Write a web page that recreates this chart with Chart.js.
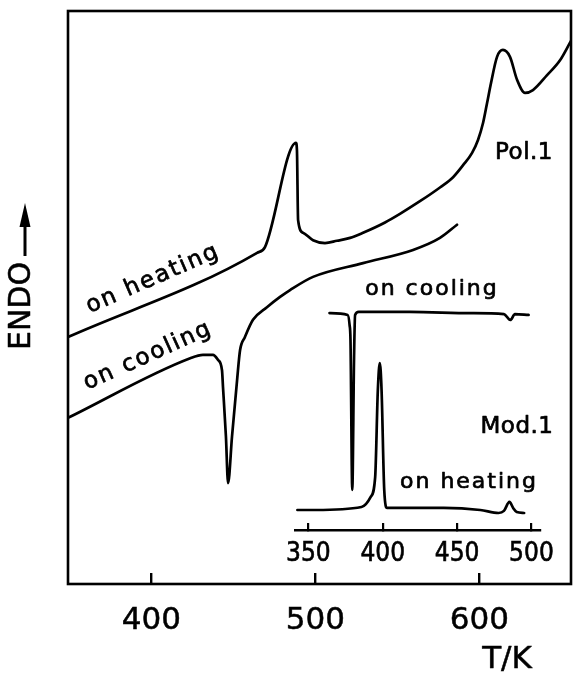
<!DOCTYPE html>
<html><head><meta charset="utf-8">
<script src="https://cdn.jsdelivr.net/npm/chart.js@4.4.1/dist/chart.umd.min.js"></script>
<style>
html,body{margin:0;padding:0;background:#fff;}
#wrap{position:relative;width:573px;height:678px;overflow:hidden;}
#main{position:absolute;left:0;top:0;}
#inset{position:absolute;left:270px;top:260px;}
</style></head><body>
<div id="wrap"><canvas id="main" width="573" height="678"></canvas><canvas id="inset" width="300" height="320"></canvas></div>
<script>
// ---- data ----
const mainTicks = [400, 500, 600];
const insetTicks = [350, 400, 450, 500];

// Pol.1 on heating (T / K, ENDO arbitrary units)
const pol1HeatT = [349.2, 464.5, 469.3, 488.2, 488.8, 489.5, 492.5, 498.6, 505.9, 513.2, 521.2, 529.1, 542.5, 551.6, 563.8, 576.0, 584.0, 590.1, 595.5, 599.2, 602.3, 604.7, 607.1, 610.8, 614.4, 618.7, 623.0, 627.9, 632.7, 641.3, 649.2, 655.9];
const pol1HeatY = [43.1, 57.8, 58.8, 77.0, 75.7, 63.5, 61.3, 60.0, 59.5, 59.9, 60.4, 61.3, 63.1, 64.6, 66.8, 69.2, 71.0, 73.1, 75.2, 77.5, 80.5, 83.9, 87.4, 92.0, 93.2, 92.0, 88.0, 85.7, 86.2, 88.8, 91.4, 94.8];

// Pol.1 on cooling
const pol1CoolT = [349.2, 423.7, 431.5, 437.6, 440.7, 443.1, 443.7, 445.5, 446.8, 449.2, 452.3, 454.1, 457.1, 462.0, 470.5, 478.5, 484.6, 498.6, 529.1, 559.6, 576.0, 586.4];
const pol1CoolY = [29.0, 39.4, 40.0, 40.0, 39.1, 37.3, 34.4, 25.7, 17.6, 25.7, 35.6, 40.8, 43.1, 46.1, 48.3, 50.1, 51.3, 53.6, 56.0, 58.3, 60.4, 62.7];

// Mod.1 on cooling (inset)
const mod1CoolT = [364.2, 376.4, 377.7, 378.3, 379.5, 380.7, 381.4, 383.8, 418.2, 459.4, 481.5, 485.8, 488.9, 498.1];
const mod1CoolY = [94.3, 93.5, 89.1, 82.6, 17.4, 75.2, 93.5, 94.8, 94.8, 94.3, 93.9, 91.3, 93.9, 93.5];

// Mod.1 on heating (inset)
const mod1HeatT = [342.6, 354.9, 385.7, 391.8, 394.9, 396.7, 398.0, 399.2, 401.0, 402.9, 441.0, 465.6, 477.9, 481.5, 485.2, 487.7, 490.1, 495.1];
const mod1HeatY = [8.7, 8.7, 10.0, 14.3, 23.0, 60.9, 72.6, 60.9, 17.4, 9.6, 9.6, 8.7, 7.4, 8.3, 12.2, 9.6, 7.8, 7.4];

// ---- helpers ----
const FONT = "'DejaVu Sans', sans-serif";
const NARROW = "'Liberation Sans Narrow', 'DejaVu Sans Condensed', sans-serif";
Chart.defaults.font.family = FONT;
Chart.defaults.color = '#000';
const pts = (xs, ys) => xs.map((x, i) => ({x: x, y: ys[i]}));
const lineDs = (xs, ys) => ({
  data: pts(xs, ys), borderColor: '#000', borderWidth: 2.7, pointRadius: 0,
  fill: false, cubicInterpolationMode: 'monotone', borderJoinStyle: 'round', borderCapStyle: 'round'
});

function txt(ctx, s, x, y, size, rot, spacing, weight) {
  ctx.save();
  ctx.translate(x, y);
  if (rot) ctx.rotate(rot * Math.PI / 180);
  ctx.font = size + 'px ' + FONT;
  ctx.fillStyle = '#000';
  ctx.strokeStyle = '#000';
  ctx.lineWidth = weight || 0.7;
  ctx.lineJoin = 'round';
  ctx.textAlign = 'center';
  ctx.textBaseline = 'middle';
  try { ctx.letterSpacing = (spacing || 0) + 'px'; } catch (e) {}
  ctx.fillText(s, 0, 0);
  ctx.strokeText(s, 0, 0);
  ctx.restore();
}

const mainDeco = {
  id: 'mainDeco',
  afterDraw(chart) {
    const ctx = chart.ctx, a = chart.chartArea;
    ctx.save();
    ctx.strokeStyle = '#000';
    ctx.lineWidth = 2.6;
    ctx.strokeRect(a.left, a.top, a.right - a.left, a.bottom - a.top);
    ctx.restore();
    txt(ctx, 'on heating', 153, 279, 23, -23.5, 2);
    txt(ctx, 'on cooling', 148, 356, 23, -24.2, 2);
    txt(ctx, 'Pol.1', 524, 153, 23, 0, 0.5);
    txt(ctx, 'ENDO', 22, 306, 30, -90, 0, 0.5);
    txt(ctx, 'T/K', 507, 660, 31, 0, 0, 0.5);
    // ENDO arrow
    ctx.save();
    ctx.strokeStyle = '#000'; ctx.fillStyle = '#000'; ctx.lineWidth = 3;
    ctx.beginPath(); ctx.moveTo(25, 256); ctx.lineTo(25, 222); ctx.stroke();
    ctx.beginPath(); ctx.moveTo(25, 203); ctx.lineTo(19.5, 227); ctx.lineTo(30.5, 227); ctx.closePath(); ctx.fill();
    ctx.restore();
  }
};

new Chart(document.getElementById('main'), {
  type: 'line',
  data: { datasets: [lineDs(pol1HeatT, pol1HeatY), lineDs(pol1CoolT, pol1CoolY)] },
  options: {
    responsive: false, animation: false, devicePixelRatio: 1,
    layout: { padding: { left: 68, top: 11, right: 2, bottom: 0 } },
    plugins: { legend: { display: false }, tooltip: { enabled: false } },
    scales: {
      x: {
        type: 'linear', position: 'bottom', min: 349.2, max: 655.9,
        afterBuildTicks: s => { s.ticks = mainTicks.map(v => ({value: v})); },
        afterFit: s => { s.height = 94; },
        grid: { drawOnChartArea: false, drawTicks: true, tickLength: -11, color: '#000', lineWidth: 2.4 },
        border: { display: false },
        ticks: { font: { size: 31 }, padding: 29, maxRotation: 0, textStrokeColor: '#000', textStrokeWidth: 0.5, callback: v => String(v) }
      },
      y: { type: 'linear', min: 0, max: 100, display: false }
    }
  },
  plugins: [mainDeco]
});

const OY = 260, OX = 270; // inset canvas offset on the page
const insetDeco = {
  id: 'insetDeco',
  afterDraw(chart) {
    const ctx = chart.ctx;
    txt(ctx, 'on cooling', 432 - OX, 289 - OY, 22, 0, 2);
    txt(ctx, 'Mod.1', 517 - OX, 427 - OY, 23, 0, 0.5);
    txt(ctx, 'on heating', 469 - OX, 482 - OY, 22, 0, 2);
  }
};

new Chart(document.getElementById('inset'), {
  type: 'line',
  data: { datasets: [lineDs(mod1CoolT, mod1CoolY), lineDs(mod1HeatT, mod1HeatY)] },
  options: {
    responsive: false, animation: false, devicePixelRatio: 1,
    layout: { padding: { left: 17, top: 40, right: 15, bottom: 0 } },
    plugins: { legend: { display: false }, tooltip: { enabled: false } },
    scales: {
      x: {
        type: 'linear', position: 'bottom', min: 340.8, max: 505.5,
        afterBuildTicks: s => { s.ticks = insetTicks.map(v => ({value: v})); },
        afterFit: s => { s.height = 50; },
        grid: { drawOnChartArea: false, drawTicks: true, tickLength: -7, color: '#000', lineWidth: 2.2 },
        border: { display: true, color: '#000', width: 2.4 },
        ticks: { font: { size: 26, family: NARROW }, padding: 16, maxRotation: 0, textStrokeColor: '#000', textStrokeWidth: 0.6, callback: v => String(v) }
      },
      y: { type: 'linear', min: 0, max: 100, display: false }
    }
  },
  plugins: [insetDeco]
});
</script>
</body></html>
